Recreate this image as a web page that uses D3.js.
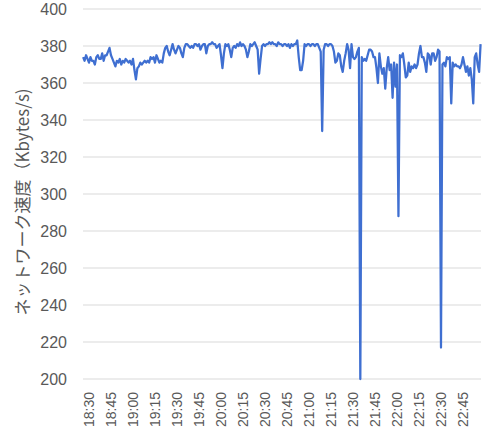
<!DOCTYPE html>
<html>
<head>
<meta charset="utf-8">
<script src="https://cdn.jsdelivr.net/npm/d3@7"></script>
<style>
  body { margin: 0; background: #fff; }
  text { font-family: "Liberation Sans", "Open Sans", sans-serif; fill: #595959; }
</style>
</head>
<body>
<div id="chart"></div>
<script>
// Sampled once a minute, starting at 18:26
const startTime = '18:26';
const speed = [
    374, 372, 375, 373,
    371, 374, 372, 372, 370, 374, 375, 373, 373, 376, 372, 375, 375, 377, 379,
    375, 373, 371, 369, 372, 371, 373, 370, 372, 371, 373, 372, 371, 372, 370,
    373, 367, 362, 368, 369, 371, 370, 371, 372, 371, 372, 371, 374, 373, 374,
    371, 375, 373, 371, 372, 371, 376, 379, 380, 377, 375, 378, 381, 378, 376,
    378, 380, 379, 376, 374, 379, 381, 381, 380, 379, 380, 379, 381, 381, 380,
    381, 378, 380, 381, 381, 376, 380, 381, 381, 382, 381, 381, 379, 380, 381,
    375, 368, 376, 381, 380, 381, 378, 374, 379, 380, 379, 381, 380, 382, 380,
    381, 380, 378, 374, 377, 381, 380, 381, 382, 380, 378, 365, 373, 380, 381,
    380, 381, 381, 382, 381, 382, 381, 381, 380, 382, 381, 381, 380, 381, 381,
    380, 381, 379, 381, 380, 381, 381, 383, 374, 367, 367, 372, 381, 380, 381,
    381, 380, 381, 381, 380, 381, 381, 379, 377, 334, 378, 381, 381, 380, 381,
    381, 380, 377, 371, 372, 376, 375, 369, 366, 372, 376, 381, 378, 368, 381,
    374, 373, 374, 377, 379, 200, 374, 372, 373, 372, 375, 378, 378, 377, 374,
    374, 368, 360, 376, 369, 365, 368, 357, 368, 374, 367, 370, 352, 371, 358,
    370, 288, 375, 374, 376, 370, 363, 364, 371, 366, 369, 368, 370, 368, 370,
    376, 380, 374, 374, 371, 366, 376, 375, 370, 376, 376, 372, 374, 378, 377,
    217, 370, 371, 369, 374, 373, 374, 349, 371, 369, 370, 369, 369, 368, 370,
    374, 370, 366, 369, 364, 368, 362, 349, 374, 376, 370, 366, 381
];
const tickLabels = ['18:30', '18:45', '19:00', '19:15', '19:30', '19:45', '20:00', '20:15', '20:30',
    '20:45', '21:00', '21:15', '21:30', '21:45', '22:00', '22:15', '22:30', '22:45'];
const yTicks = [200, 220, 240, 260, 280, 300, 320, 340, 360, 380, 400];
const yTitle = 'ネットワーク速度（Kbytes/s)';

const width = 488, height = 435;
const margin = {top: 9, right: 7, bottom: 56, left: 83};
const innerW = width - margin.left - margin.right;
const innerH = height - margin.top - margin.bottom;

const parse = d3.timeParse('%H:%M');
const t0 = parse(startTime);
const data = speed.map((v, i) => ({time: d3.timeMinute.offset(t0, i), value: v}));

const svg = d3.select('#chart')
    .append('svg')
    .attr('width', width)
    .attr('height', height);

const g = svg.append('g')
    .attr('transform', `translate(${margin.left},${margin.top})`);

// time domain padded a little on both ends, as in the original
const x = d3.scaleTime()
    .domain([d3.timeSecond.offset(t0, -5), d3.timeSecond.offset(data[data.length - 1].time, 17)])
    .range([0, innerW]);

const y = d3.scaleLinear()
    .domain([200, 400])
    .range([innerH, 0]);

// gridlines
g.append('g')
    .selectAll('line')
    .data(yTicks)
    .enter()
    .append('line')
    .attr('x1', 0)
    .attr('x2', innerW)
    .attr('y1', d => y(d))
    .attr('y2', d => y(d))
    .attr('stroke', '#d9d9d9')
    .attr('stroke-width', 1);

// y axis
const yAxis = g.append('g')
    .call(d3.axisLeft(y).tickValues(yTicks).tickSize(0).tickPadding(16));
yAxis.select('.domain').remove();
yAxis.selectAll('text')
    .style('font-size', '16px')
    .style('fill', '#595959');

// x axis
const xAxis = g.append('g')
    .attr('transform', `translate(0,${innerH})`)
    .call(d3.axisBottom(x)
        .tickValues(tickLabels.map(parse))
        .tickFormat(d3.timeFormat('%H:%M'))
        .tickSize(0));
xAxis.select('.domain').remove();
xAxis.selectAll('text')
    .attr('transform', 'rotate(-90)')
    .attr('x', -13)
    .attr('y', 0)
    .attr('dy', '0.35em')
    .style('text-anchor', 'end')
    .style('font-size', '14px')
    .style('fill', '#595959');

// line
const line = d3.line()
    .x(d => x(d.time))
    .y(d => y(d.value));

g.append('path')
    .datum(data)
    .attr('fill', 'none')
    .attr('stroke', '#3f6fd1')
    .attr('stroke-width', 2.25)
    .attr('stroke-linejoin', 'round')
    .attr('d', line);

// y axis title
svg.append('text')
    .attr('transform', `translate(23,${margin.top + innerH / 2 + 8}) rotate(-90)`)
    .attr('text-anchor', 'middle')
    .attr('dy', '0.35em')
    .style('font-family', '"Noto Sans CJK JP", sans-serif')
    .style('font-size', '17px')
    .text(yTitle);
</script>
</body>
</html>
